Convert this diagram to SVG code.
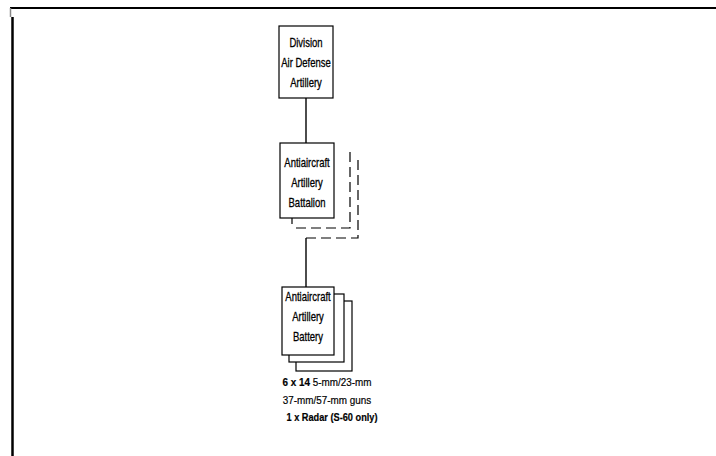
<svg xmlns="http://www.w3.org/2000/svg" width="716" height="456" viewBox="0 0 716 456">
<style>
.box{fill:#fff;stroke:#000;stroke-width:1.2}
.sh{fill:none;stroke:#000;stroke-width:1.2}
.dash{fill:none;stroke:#000;stroke-width:1.2;stroke-dasharray:10 5}
.t{font-family:"Liberation Sans",Arial,sans-serif;font-size:12.5px;fill:#000;stroke:#000;stroke-width:0.3;text-anchor:middle}
.n{font-family:"Liberation Sans",Arial,sans-serif;font-size:11.5px;fill:#000;stroke:#000;stroke-width:0.2;text-anchor:middle}
.line{stroke:#000;stroke-width:1.4;fill:none}
</style>
<rect width="716" height="456" fill="#fff"/>
<g id="frame">
<line x1="10" y1="8" x2="716" y2="8" stroke="#000" stroke-width="2"/>
<line x1="10.5" y1="8" x2="10.5" y2="17" stroke="#888" stroke-width="1.5"/>
<line x1="12.5" y1="17" x2="12.5" y2="456" stroke="#000" stroke-width="2.5"/>
</g>
<g id="connectors">
<line class="line" x1="306" y1="98" x2="306" y2="143"/>
<line class="line" x1="306" y1="238" x2="306" y2="287"/>
</g>
<g id="division">
<rect class="box" x="279" y="26" width="54" height="72"/>
<text class="t" transform="translate(306 47) scale(0.76 1)">Division</text>
<text class="t" transform="translate(306 67) scale(0.76 1)">Air Defense</text>
<text class="t" transform="translate(306 87) scale(0.76 1)">Artillery</text>
</g>
<g id="battalion">
<path class="dash" d="M350 152 V228 H295"/>
<path class="dash" d="M358 160 V238 H306"/>
<line class="sh" x1="292" y1="218" x2="292" y2="224"/>
<rect class="box" x="280" y="143" width="54" height="75"/>
<text class="t" transform="translate(307 167) scale(0.76 1)">Antiaircraft</text>
<text class="t" transform="translate(307 187) scale(0.76 1)">Artillery</text>
<text class="t" transform="translate(307 207) scale(0.76 1)">Battalion</text>
</g>
<g id="battery">
<rect class="box" x="296" y="301" width="56" height="70"/>
<rect class="box" x="289" y="294" width="55" height="68"/>
<rect class="box" x="282" y="287" width="52" height="68"/>
<text class="t" transform="translate(308 301) scale(0.76 1)">Antiaircraft</text>
<text class="t" transform="translate(308 321) scale(0.76 1)">Artillery</text>
<text class="t" transform="translate(308 341) scale(0.76 1)">Battery</text>
</g>
<g id="notes">
<text class="n" transform="translate(327 386) scale(0.86 1)"><tspan font-weight="bold">6 x 14</tspan> 5-mm/23-mm</text>
<text class="n" transform="translate(327 404) scale(0.86 1)">37-mm/57-mm guns</text>
<text class="n" transform="translate(332 421) scale(0.8 1)" font-weight="bold" font-size="10.5">1 x Radar (S-60 only)</text>
</g>
</svg>
